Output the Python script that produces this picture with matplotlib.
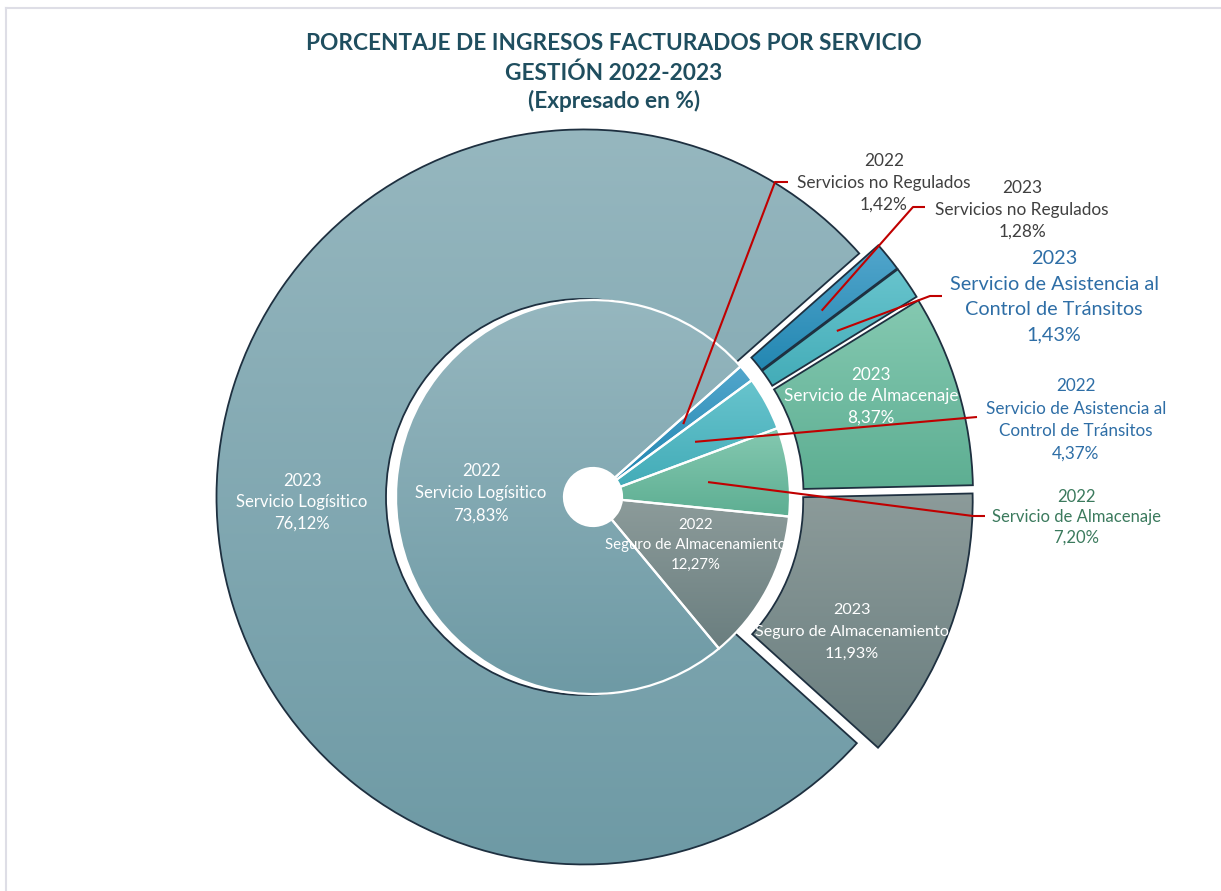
import numpy as np
import matplotlib.pyplot as plt
from matplotlib.colors import LinearSegmentedColormap

plt.rcParams['font.family'] = ['Lato', 'DejaVu Sans']

# data (clockwise from the upper right)
services = ['Servicios no Regulados',
            'Servicio de Asistencia al\nControl de Tránsitos',
            'Servicio de Almacenaje',
            'Seguro de Almacenamiento',
            'Servicio Logísitico']
pct_2022 = [1.42, 4.37, 7.20, 12.27, 73.83]
pct_2023 = [1.28, 1.43, 8.37, 11.93, 76.12]

# gradient colours per service (top, bottom)
grad_colors = [('#52a6cc', '#2387b2'),
               ('#68c4cd', '#43acb8'),
               ('#85c9b1', '#5dae92'),
               ('#8c9b9a', '#6a7e7f'),
               ('#96b7bf', '#6e9aa5')]

W, H = 1221, 891
cx, cy = 593, H - 497

fig = plt.figure(figsize=(W / 100, H / 100), dpi=100)
ax = fig.add_axes([0, 0, 1, 1])


def fmt(v):
    return f'{v:.2f}'.replace('.', ',') + '%'


def fill_gradient(wedge, top, bottom):
    ext = wedge.get_path().get_extents()
    cmap = LinearSegmentedColormap.from_list('g', [bottom, top])
    grad = np.linspace(0, 1, 256).reshape(-1, 1)
    im = ax.imshow(grad, cmap=cmap, origin='lower', aspect='auto',
                   extent=(ext.x0, ext.x1, ext.y0, ext.y1),
                   interpolation='bilinear', zorder=wedge.get_zorder() - 0.1)
    im.set_clip_path(wedge)
    wedge.set_facecolor('none')


# outer ring = 2023 (explode is in pixels here)
r_out = 367.5
outer, _ = ax.pie(pct_2023, radius=r_out, center=(cx, cy), startangle=41.5,
                  counterclock=False, explode=[13, 13, 13, 13, 9],
                  wedgeprops=dict(width=r_out - 198, edgecolor='#1e3040',
                                  linewidth=1.3, zorder=2))
# inner ring = 2022
r_in = 197
inner, _ = ax.pie(pct_2022, radius=r_in, center=(cx, cy), startangle=41.5,
                  counterclock=False,
                  wedgeprops=dict(width=r_in - 29, edgecolor='white',
                                  linewidth=1.6, zorder=4))

for w, (top, bot) in zip(outer, grad_colors):
    fill_gradient(w, top, bot)
for w, (top, bot) in zip(inner, grad_colors):
    fill_gradient(w, top, bot)


def stack_text(x, y_mid, text, pitch, **kw):
    # one text per line, so each line keeps its own box
    lines = text.split('\n')
    n = len(lines)
    for i, line in enumerate(lines):
        y = y_mid + (i - (n - 1) / 2) * pitch
        ax.text(x, H - y, line, ha='center', va='center', zorder=7, **kw)


# labels inside the slices
stack_text(302, 502, f'2023\n{services[4]}\n{fmt(pct_2023[4])}', 21.5, color='white', fontsize=12)
stack_text(481, 493, f'2022\n{services[4]}\n{fmt(pct_2022[4])}', 22.5, color='white', fontsize=12)
stack_text(696, 545, f'2022\n{services[3]}\n{fmt(pct_2022[3])}', 20, color='white', fontsize=10.8)
stack_text(852, 632, f'2023\n{services[3]}\n{fmt(pct_2023[3])}', 21.5, color='white', fontsize=11.6)
stack_text(871, 396, f'2023\n{services[2]}\n{fmt(pct_2023[2])}', 21.5, color='white', fontsize=12.3)


def anchor(w, r):
    t = np.deg2rad((w.theta1 + w.theta2) / 2)
    return w.center[0] + r * np.cos(t), w.center[1] + r * np.sin(t)


def leader(w, r, pts):
    x0, y0 = anchor(w, r)
    xs = [x0] + [p[0] for p in pts]
    ys = [y0] + [H - p[1] for p in pts]
    ax.plot(xs, ys, color='#c00000', lw=1.5, zorder=6, solid_capstyle='butt')


# callouts outside the chart
leader(inner[0], 116, [(775, 182), (788, 182)])
stack_text(884, 183, f'2022\n{services[0]}\n{fmt(pct_2022[0])}', 21.5,
           color='#404040', fontsize=12.4)

leader(outer[0], 282, [(913, 207), (925, 207)])
stack_text(1022, 210, f'2023\n{services[0]}\n{fmt(pct_2023[0])}', 22,
           color='#404040', fontsize=12.4)

leader(outer[1], 282, [(930, 296), (942, 296)])
stack_text(1054, 297, f'2023\n{services[1]}\n{fmt(pct_2023[1])}', 25.5,
           color='#2e6ea6', fontsize=14.3)

leader(inner[1], 116, [(977, 417)])
stack_text(1076, 420, f'2022\n{services[1]}\n{fmt(pct_2022[1])}', 22.7,
           color='#2e6ea6', fontsize=12.3)

leader(inner[2], 116, [(973, 516), (985, 516)])
stack_text(1076, 517, f'2022\n{services[2]}\n{fmt(pct_2022[2])}', 20.5,
           color='#3b7a5d', fontsize=12)

# title
tkw = dict(ha='center', va='center', color='#1f4e5f', fontweight='bold', fontsize=16.3)
ax.text(614, H - 44, 'PORCENTAJE DE INGRESOS FACTURADOS POR SERVICIO', **tkw)
ax.text(614, H - 73, 'GESTIÓN 2022-2023', **tkw)
ax.text(614, H - 101, '(Expresado en %)', **tkw)

# chart frame (top and left edges visible)
ax.plot([6, W], [H - 8, H - 8], color='#dedee6', lw=1.5, zorder=8)
ax.plot([6, 6], [H - 8, 0], color='#dedee6', lw=1.5, zorder=8)

ax.set_xlim(0, W)
ax.set_ylim(0, H)
ax.set_aspect('equal')
ax.axis('off')

fig.savefig('out.png', dpi=100)
